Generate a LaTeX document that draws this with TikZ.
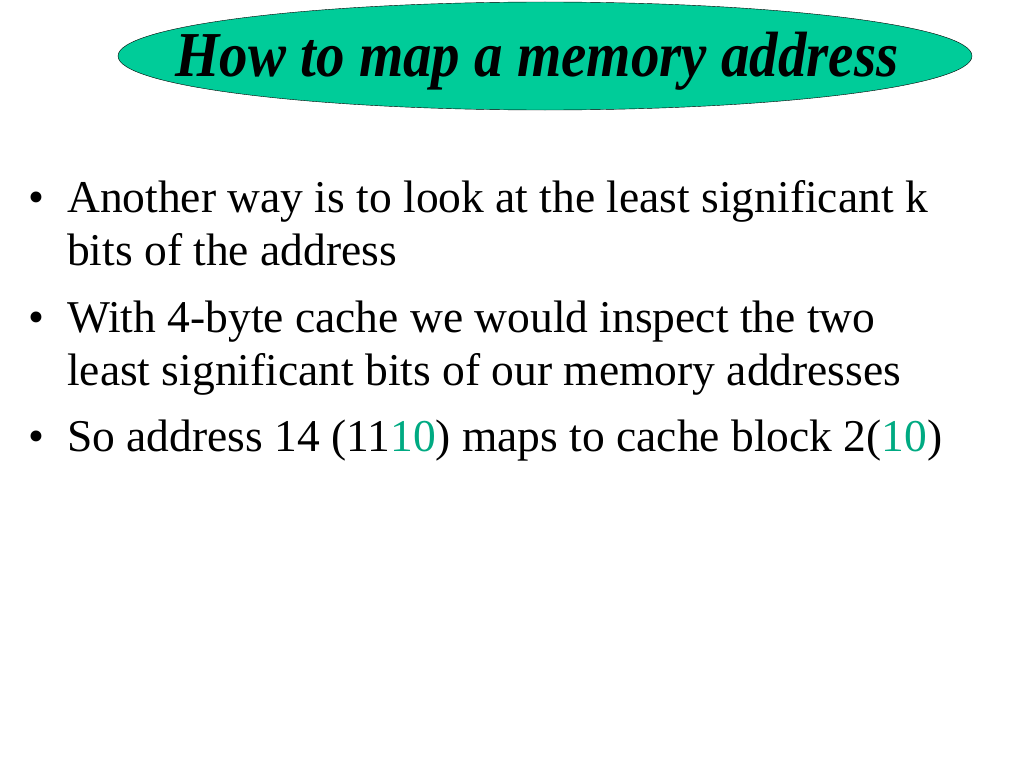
\documentclass[tikz,border=0pt]{standalone}
\usepackage{fontspec}
\setmainfont{Liberation Serif}
\usetikzlibrary{shapes.geometric}
\definecolor{titlegreen}{RGB}{0,204,153}
\definecolor{bitgreen}{RGB}{0,170,130}
\tikzset{
  line/.style={anchor=base west,inner sep=0pt,font=\fontsize{45.5}{50}\selectfont},
  dot/.style={anchor=base west,inner sep=0pt,font=\fontsize{45.5}{50}\selectfont}
}

\begin{document}
\begin{tikzpicture}[x=1pt,y=-1pt]
\useasboundingbox (0,0) rectangle (1024,768);
\node[ellipse,draw=black,fill=titlegreen,minimum width=854pt,minimum height=108pt,inner sep=0pt] (title) at (545,56) {};
\node[font=\fontsize{64}{70}\selectfont\bfseries\itshape,inner sep=0pt,anchor=base,xscale=0.89] (titletext) at (537,77) {How to map a memory address};

\node[dot] (b1) at (28,212) {\textbullet};
\node[line] (l1) at (67,212) {Another way is to look at the least significant k};
\node[line] (l2) at (67,265) {bits of the address};
\node[dot] (b2) at (28,332) {\textbullet};
\node[line] (l3) at (67,332) {With 4-byte cache we would inspect the two};
\node[line] (l4) at (67,385) {least significant bits of our memory addresses};
\node[dot] (b3) at (28,451) {\textbullet};
\node[line] (l5) at (67,451) {So address 14 (11\textcolor{bitgreen}{10}) maps to cache block 2(\textcolor{bitgreen}{10})};
\end{tikzpicture}
\end{document}
